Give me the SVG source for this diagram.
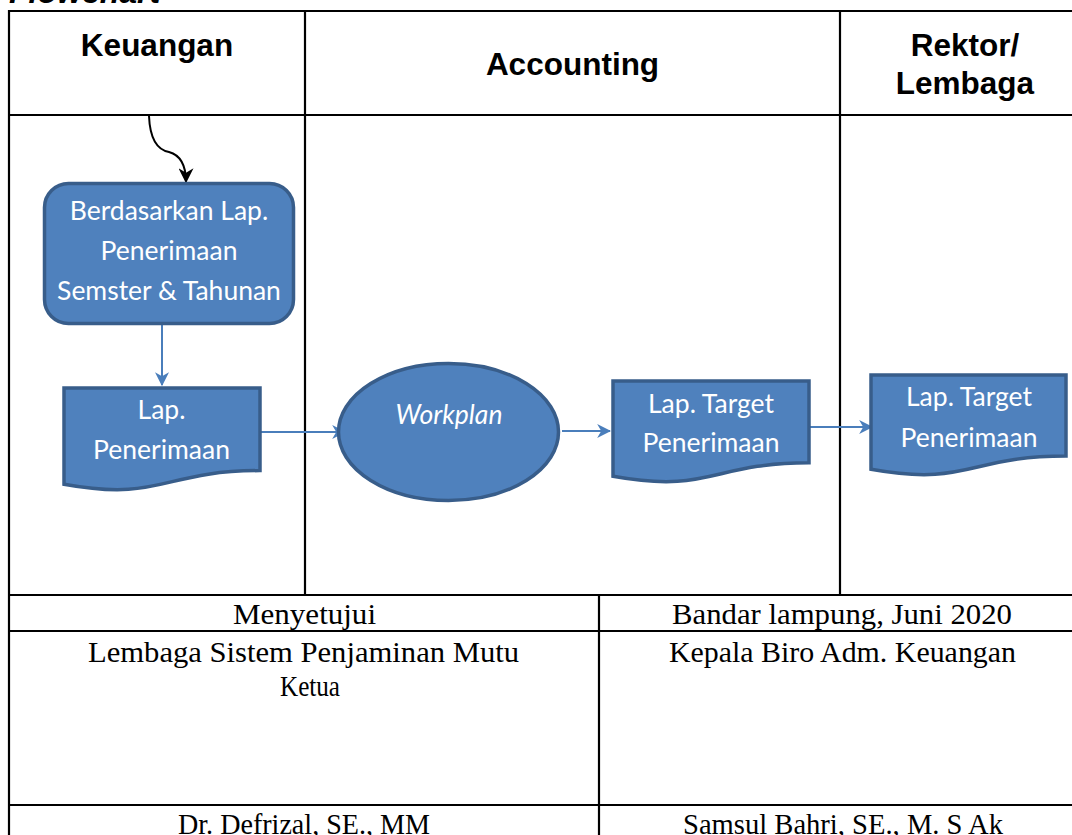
<svg xmlns="http://www.w3.org/2000/svg" width="1072" height="835" viewBox="0 0 1072 835">
  <style>
    .grid { stroke: #000; stroke-width: 2.2; fill: none; }
    .lane-title { font-family: "Liberation Sans", Arial, sans-serif; font-weight: bold; font-size: 31.5px; fill: #000; text-anchor: middle; }
    .shape { fill: #4F81BD; stroke: #385D8A; stroke-width: 3.5; }
    .label { font-family: Lato, "Open Sans", sans-serif; font-size: 26.5px; fill: #fff; text-anchor: middle; }
    .flow { stroke: #4A7EBB; stroke-width: 2; fill: none; }
    .sign { font-family: "Liberation Serif", "DejaVu Serif", serif; font-size: 30px; fill: #000; text-anchor: middle; }
  </style>
  <defs>
    <marker id="arrow-blue" viewBox="0 0 12 12" refX="11" refY="6" markerWidth="14" markerHeight="14" markerUnits="userSpaceOnUse" orient="auto">
      <path d="M0,0 L12,6 L0,12 L3.5,6 Z" fill="#4A7EBB"/>
    </marker>
    <marker id="arrow-black" viewBox="0 0 12 12" refX="11" refY="6" markerWidth="15" markerHeight="15" markerUnits="userSpaceOnUse" orient="auto">
      <path d="M0,0 L12,6 L0,12 L3.5,6 Z" fill="#000"/>
    </marker>
  </defs>

  <rect width="1072" height="835" fill="#fff"/>

  <!-- Title, partly above the page edge -->
  <text x="9" y="3" font-family="Liberation Sans, Arial, sans-serif" font-weight="bold" font-style="italic" font-size="32">Flowchart</text>

  <!-- Swimlane grid and signature table -->
  <g id="table">
    <path class="grid" d="M8,11 H1072 M9,10 V835 M8,115 H1072 M305,11 V595 M840,11 V595 M8,595 H1072 M8,631 H1072 M599,595 V835 M8,805 H1072"/>
  </g>

  <!-- Lane headers -->
  <g id="lane-keuangan"><text class="lane-title" x="157" y="56">Keuangan</text></g>
  <g id="lane-accounting"><text class="lane-title" x="572.5" y="75">Accounting</text></g>
  <g id="lane-rektor">
    <text class="lane-title" x="965" y="56">Rektor/</text>
    <text class="lane-title" x="965" y="94">Lembaga</text>
  </g>

  <!-- Connectors -->
  <g id="connectors">
    <path d="M149,116 C150,140 158,150 169,152 C180,155 186,165 186,182" stroke="#000" stroke-width="2" fill="none" marker-end="url(#arrow-black)"/>
    <path class="flow" d="M162,325 V385" marker-end="url(#arrow-blue)"/>
    <path class="flow" d="M260,432 H345" marker-end="url(#arrow-blue)"/>
    <path class="flow" d="M562,431 H610" marker-end="url(#arrow-blue)"/>
    <path class="flow" d="M809,427 H872" marker-end="url(#arrow-blue)"/>
  </g>

  <!-- Process: source report -->
  <g id="node-berdasarkan">
    <rect class="shape" x="44.5" y="183.5" width="249" height="140" rx="24" ry="24"/>
    <text class="label" x="169" y="220">Berdasarkan Lap.</text>
    <text class="label" x="169" y="260">Penerimaan</text>
    <text class="label" x="169" y="299.5">Semster &amp; Tahunan</text>
  </g>

  <!-- Document: Lap. Penerimaan -->
  <g id="node-lap-penerimaan">
    <path class="shape" d="M64,388 H260 V470.6 C162,470.6 162,502 64,484.2 Z"/>
    <text class="label" x="161.5" y="418.5">Lap.</text>
    <text class="label" x="161.5" y="458.5">Penerimaan</text>
  </g>

  <!-- Process: Workplan -->
  <g id="node-workplan">
    <ellipse class="shape" cx="448.5" cy="432" rx="110" ry="68.5"/>
    <text class="label" x="449" y="423.5" font-style="italic">Workplan</text>
  </g>

  <!-- Document: target report (Accounting) -->
  <g id="node-target-accounting">
    <path class="shape" d="M613,381 H809 V462.8 C711,462.8 711,493.9 613,476.3 Z"/>
    <text class="label" x="711" y="412.5">Lap. Target</text>
    <text class="label" x="711" y="452">Penerimaan</text>
  </g>

  <!-- Document: target report (Rektor/Lembaga) -->
  <g id="node-target-rektor">
    <path class="shape" d="M871,375 H1066 V456 C968.5,456 968.5,486.8 871,469.3 Z"/>
    <text class="label" x="969" y="406">Lap. Target</text>
    <text class="label" x="969" y="447">Penerimaan</text>
  </g>

  <!-- Signature block -->
  <g id="signatures">
    <text class="sign" x="304.5" y="624" textLength="143" lengthAdjust="spacingAndGlyphs">Menyetujui</text>
    <text class="sign" x="842" y="624" textLength="340" lengthAdjust="spacingAndGlyphs">Bandar lampung, Juni 2020</text>
    <text class="sign" x="303.5" y="662" textLength="431" lengthAdjust="spacingAndGlyphs">Lembaga Sistem Penjaminan Mutu</text>
    <text class="sign" x="310" y="696" textLength="60" lengthAdjust="spacingAndGlyphs">Ketua</text>
    <text class="sign" x="842.5" y="662" textLength="347" lengthAdjust="spacingAndGlyphs">Kepala Biro Adm. Keuangan</text>
    <text class="sign" x="304" y="834" textLength="252" lengthAdjust="spacingAndGlyphs">Dr. Defrizal, SE., MM</text>
    <text class="sign" x="843" y="834" textLength="320" lengthAdjust="spacingAndGlyphs">Samsul Bahri, SE., M. S Ak</text>
  </g>
</svg>
